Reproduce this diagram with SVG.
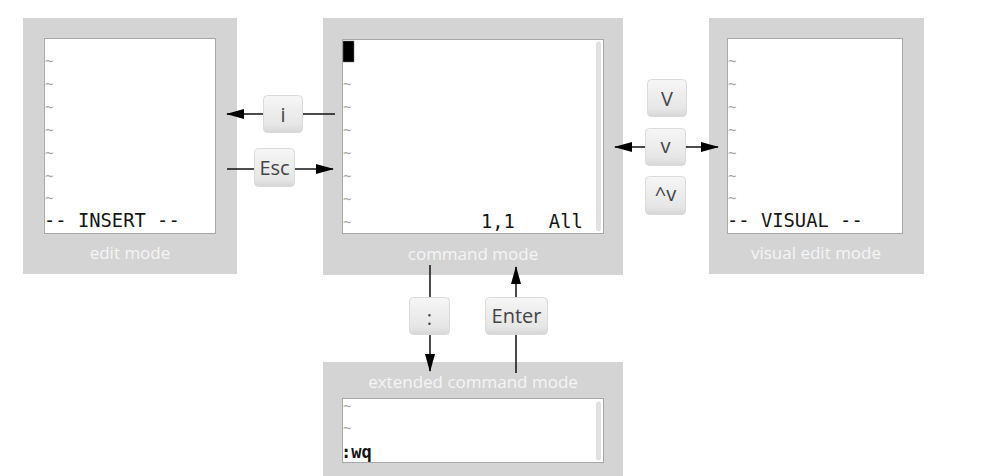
<svg xmlns="http://www.w3.org/2000/svg" width="1001" height="476" viewBox="0 0 1001 476">
  <defs>
    <linearGradient id="keyGrad" x1="0" y1="0" x2="0" y2="1">
      <stop offset="0" stop-color="#f6f6f6"/>
      <stop offset="0.8" stop-color="#e6e6e6"/>
      <stop offset="1" stop-color="#d6d6d6"/>
    </linearGradient>
    <marker id="arrow" viewBox="0 0 18 10" refX="17" refY="5" markerWidth="18" markerHeight="10" markerUnits="userSpaceOnUse" orient="auto">
      <path d="M0,0 L18,5 L0,10 Z" fill="#000"/>
    </marker>
    <style>
      .frame { fill: #d4d4d4; }
      .screen { fill: #ffffff; stroke: #a8a8a8; stroke-width: 1; }
      .label { font-family: "Open Sans", "Noto Sans", sans-serif; font-size: 17px; fill: #f5f5f5; text-anchor: middle; }
      .tilde { font-family: "DejaVu Sans Mono", monospace; font-size: 14px; fill: #a8a8a8; }
      .mono { font-family: "DejaVu Sans Mono", "Liberation Mono", monospace; font-size: 18.8px; fill: #151515; }
      .key rect { fill: url(#keyGrad); stroke: #dadada; stroke-width: 1; }
      .key text { font-family: "Open Sans", "Noto Sans", sans-serif; font-size: 20px; fill: #444; text-anchor: middle; }
      .conn line { stroke: #111; stroke-width: 1.5; fill: none; }
      .scroll { fill: #e2e2e2; stroke: #d0d0d0; stroke-width: 0.5; }
    </style>
  </defs>
  <rect width="1001" height="476" fill="#ffffff"/>

  <g id="edit-mode">
    <rect class="frame" x="23" y="18" width="214" height="256"/>
    <rect class="screen" x="44.5" y="38.5" width="171" height="195"/>
    <text class="tilde" x="45" y="66">~</text>
    <text class="tilde" x="45" y="89">~</text>
    <text class="tilde" x="45" y="112">~</text>
    <text class="tilde" x="45" y="135">~</text>
    <text class="tilde" x="45" y="158">~</text>
    <text class="tilde" x="45" y="181">~</text>
    <text class="tilde" x="45" y="203">~</text>
    <text class="mono" x="44" y="227" xml:space="preserve">-- INSERT --</text>
    <text class="label" x="130" y="259">edit mode</text>
  </g>

  <g id="command-mode">
    <rect class="frame" x="323" y="18" width="300" height="257"/>
    <rect class="screen" x="342.5" y="39.5" width="261" height="194"/>
    <rect class="scroll" x="596.5" y="42" width="4" height="189" rx="2"/>
    <rect x="343" y="41" width="11" height="21" fill="#000" stroke="#777" stroke-width="0.5"/>
    <text class="tilde" x="343" y="89">~</text>
    <text class="tilde" x="343" y="112">~</text>
    <text class="tilde" x="343" y="135">~</text>
    <text class="tilde" x="343" y="158">~</text>
    <text class="tilde" x="343" y="181">~</text>
    <text class="tilde" x="343" y="204">~</text>
    <text class="tilde" x="343" y="227">~</text>
    <text class="mono" x="481" y="228" xml:space="preserve">1,1   All</text>
    <text class="label" x="473" y="260">command mode</text>
  </g>

  <g id="visual-mode">
    <rect class="frame" x="709" y="18" width="215" height="256"/>
    <rect class="screen" x="727.5" y="38.5" width="175" height="195"/>
    <text class="tilde" x="728" y="66">~</text>
    <text class="tilde" x="728" y="89">~</text>
    <text class="tilde" x="728" y="112">~</text>
    <text class="tilde" x="728" y="135">~</text>
    <text class="tilde" x="728" y="158">~</text>
    <text class="tilde" x="728" y="181">~</text>
    <text class="tilde" x="728" y="203">~</text>
    <text class="mono" x="727" y="227" xml:space="preserve">-- VISUAL --</text>
    <text class="label" x="816" y="259">visual edit mode</text>
  </g>

  <g id="extended-mode">
    <rect class="frame" x="323" y="362" width="300" height="114"/>
    <rect class="screen" x="342.5" y="398.5" width="261" height="64"/>
    <rect class="scroll" x="596.5" y="402" width="4" height="58" rx="2"/>
    <text class="tilde" x="343" y="411">~</text>
    <text class="tilde" x="343" y="433">~</text>
    <text class="mono" x="341" y="458" style="font-weight:bold;font-size:17px">:wq</text>
    <text class="label" x="473" y="388">extended command mode</text>
  </g>

  <g id="connectors" class="conn">
    <line x1="335" y1="114" x2="303" y2="114"/>
    <line x1="263" y1="114" x2="227" y2="114" marker-end="url(#arrow)"/>
    <line x1="227" y1="169" x2="254" y2="169"/>
    <line x1="295" y1="169" x2="333" y2="169" marker-end="url(#arrow)"/>
    <line x1="645" y1="147" x2="615" y2="147" marker-end="url(#arrow)"/>
    <line x1="685" y1="147" x2="718" y2="147" marker-end="url(#arrow)"/>
    <line x1="430" y1="265" x2="430" y2="298"/>
    <line x1="430" y1="335" x2="430" y2="371" marker-end="url(#arrow)"/>
    <line x1="516" y1="373" x2="516" y2="335"/>
    <line x1="516" y1="298" x2="516" y2="267" marker-end="url(#arrow)"/>
  </g>

  <g id="key-i" class="key">
    <rect x="263.5" y="95.5" width="39" height="37" rx="4"/>
    <text x="283" y="122">i</text>
  </g>
  <g id="key-esc" class="key">
    <rect x="254.5" y="148.5" width="40" height="38" rx="4"/>
    <text x="274.5" y="175">Esc</text>
  </g>
  <g id="key-V" class="key">
    <rect x="647.5" y="79.5" width="39" height="37" rx="4"/>
    <text x="667" y="106">V</text>
  </g>
  <g id="key-v" class="key">
    <rect x="645.5" y="128.5" width="40" height="37" rx="4"/>
    <text x="665.5" y="153">v</text>
  </g>
  <g id="key-ctrl-v" class="key">
    <rect x="645.5" y="176.5" width="40" height="38" rx="4"/>
    <text x="665.5" y="201">^v</text>
  </g>
  <g id="key-colon" class="key">
    <rect x="409.5" y="297.5" width="40" height="37" rx="4"/>
    <text x="429.5" y="325">:</text>
  </g>
  <g id="key-enter" class="key">
    <rect x="485.5" y="297.5" width="62" height="37" rx="4"/>
    <text x="516.5" y="323">Enter</text>
  </g>
</svg>
